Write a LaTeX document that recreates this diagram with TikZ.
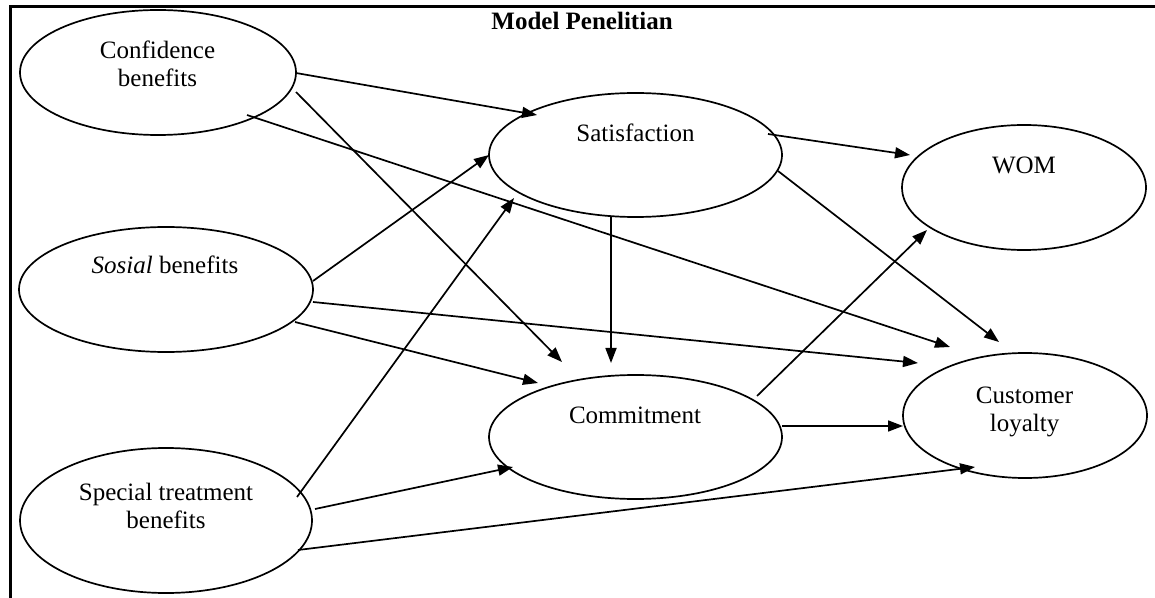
\documentclass[tikz,border=0pt]{standalone}
\usepackage{fontspec}
\setmainfont{Liberation Serif}
\usetikzlibrary{shapes.geometric,arrows.meta,calc}
\begin{document}
\begin{tikzpicture}[x=0.5pt,y=-0.5pt,
  construct/.style={draw,ellipse,line width=0.85pt,inner sep=0pt},
  lbl/.style={anchor=base,inner sep=0pt,font=\fontsize{12.5}{14}\selectfont},
  path/.style={line width=0.85pt,-{Triangle[length=7.5pt,width=5.5pt]}},
]
\useasboundingbox (0,0) rectangle (1155,598);
% frame edges
\draw[line width=1.5pt] (10,598) -- (10,6.5) -- (1155,6.5);
\node[anchor=base west,inner sep=0pt,font=\fontsize{12.5}{14}\selectfont\bfseries] (title) at (491,30) {Model Penelitian};

% constructs
\node[construct,minimum width=138pt,minimum height=62.5pt] (conf) at (158,72.5) {};
\node[construct,minimum width=147pt,minimum height=62.5pt] (sos)  at (166,289.5) {};
\node[construct,minimum width=146pt,minimum height=72.5pt] (spec) at (166,520.5) {};
\node[construct,minimum width=146.5pt,minimum height=62pt] (sat)  at (635.5,155) {};
\node[construct,minimum width=122pt,minimum height=62.5pt] (wom)  at (1024,187.5) {};
\node[construct,minimum width=146.5pt,minimum height=62pt] (com)  at (635.5,437) {};
\node[construct,minimum width=122pt,minimum height=62.5pt] (loy)  at (1025,415.5) {};

% labels
\node[lbl] (conf-t) at (157.5,59) {\begin{tabular}[t]{@{}c@{}}Confidence\\benefits\end{tabular}};
\node[lbl] (sos-t)  at (165,274) {\textit{Sosial} benefits};
\node[lbl] (spec-t) at (166,500) {\begin{tabular}[t]{@{}c@{}}Special treatment\\benefits\end{tabular}};
\node[lbl] (sat-t)  at (635.5,142) {Satisfaction};
\node[lbl] (wom-t)  at (1024,174) {WOM};
\node[lbl] (com-t)  at (635,423) {Commitment};
\node[lbl] (loy-t)  at (1024.5,403) {\begin{tabular}[t]{@{}c@{}}Customer\\loyalty\end{tabular}};

% paths
\draw[path] ($(conf)+(138,0.5)$)   -- ($(sat)+(-98.5,-40)$);
\draw[path] ($(conf)+(138,19.5)$)  -- ($(com)+(-73.5,-75)$);
\draw[path] ($(conf)+(89,42.5)$)   -- ($(loy)+(-75,-68.5)$);
\draw[path] ($(sos)+(147,-8.5)$)   -- ($(sat)+(-146.5,0)$);
\draw[path] ($(sos)+(147,12.5)$)   -- ($(loy)+(-107,-52.5)$);
\draw[path] ($(sos)+(129,32.5)$)   -- ($(com)+(-97.5,-54)$);
\draw[path] ($(spec)+(131,-23.5)$) -- ($(sat)+(-121.5,43)$);
\draw[path] ($(spec)+(149,-11.5)$) -- ($(com)+(-122.5,30)$);
\draw[path] ($(spec)+(132,29.5)$)  -- ($(loy)+(-50,51.5)$);
\draw[path] ($(sat)+(132.5,-21)$)  -- ($(wom)+(-114,-32.5)$);
\draw[path] ($(sat)+(142.5,16)$)   -- ($(loy)+(-26,-73.5)$);
\draw[path] ($(sat)+(-24.5,62)$)   -- ($(com)+(-24.5,-74)$);
\draw[path] ($(com)+(121.5,-41)$)  -- ($(wom)+(-97,42.5)$);
\draw[path] ($(com)+(146.5,-11)$)  -- ($(loy)+(-122,10.5)$);
\end{tikzpicture}
\end{document}
